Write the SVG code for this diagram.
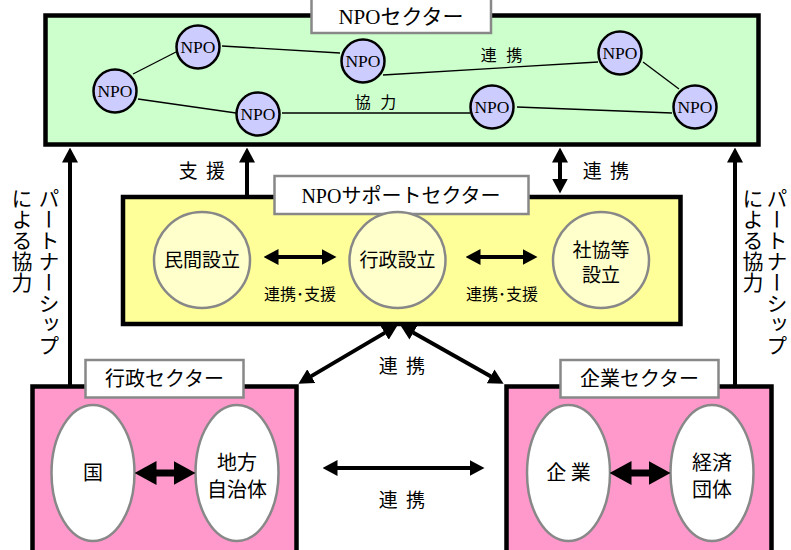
<svg xmlns="http://www.w3.org/2000/svg" width="791" height="550" viewBox="0 0 791 550">
<style>
.box{stroke:#000;stroke-width:4.5}
.title{fill:#fff;stroke:#888;stroke-width:2.5}
.jp{font-family:"Noto Sans CJK JP","Noto Sans",sans-serif;fill:#000;text-anchor:middle}
.mix{font-family:"Liberation Serif","Noto Sans CJK JP",serif;fill:#000;text-anchor:middle}
.npo circle{fill:#ccccff;stroke:#000;stroke-width:2.5}
.npo text{font-family:"Liberation Serif",serif;font-size:17.5px;text-anchor:middle;fill:#000}
.sub{fill:#ffffcc;stroke:#888;stroke-width:2.5}
.ell{fill:#fff;stroke:#888;stroke-width:2.5}
.net line{stroke:#000;stroke-width:1.3}
.arr{stroke:#000;stroke-width:4;fill:none}
.arrb{stroke:#000;stroke-width:7;fill:none}
.vt{font-family:"Noto Sans CJK JP",sans-serif;font-size:21px;writing-mode:vertical-rl;fill:#000}
</style>
<defs>
<marker id="ah" viewBox="0 0 15 16" refX="0.5" refY="8" markerWidth="15" markerHeight="16" markerUnits="userSpaceOnUse" orient="auto-start-reverse">
<path d="M0,0 L15,8 L0,16 Z" fill="#000"/>
</marker>
<marker id="ahb" viewBox="0 0 22 24" refX="0.5" refY="12" markerWidth="22" markerHeight="24" markerUnits="userSpaceOnUse" orient="auto-start-reverse">
<path d="M0,0 L22,12 L0,24 Z" fill="#000"/>
</marker>
</defs>
<rect width="791" height="550" fill="#fff"/>

<g id="npo-sector">
<rect class="box" x="45.5" y="15.5" width="713" height="129" fill="#ccffcc"/>
<g class="net">
<line x1="133" y1="74" x2="176" y2="52"/>
<line x1="222" y1="46" x2="340" y2="53"/>
<line x1="138" y1="99" x2="236" y2="113"/>
<line x1="282" y1="113" x2="470" y2="113"/>
<line x1="383" y1="75" x2="598" y2="62"/>
<line x1="517" y1="107" x2="672" y2="113"/>
<line x1="643" y1="62" x2="679" y2="89"/>
</g>
<text class="jp" x="503" y="61" font-size="16" letter-spacing="3">連 携</text>
<text class="jp" x="377" y="108" font-size="16" letter-spacing="3">協 力</text>
<rect class="title" x="311.5" y="-2" width="179.5" height="35"/>
<text class="mix" x="401" y="24" font-size="21">NPOセクター</text>
</g>

<g id="npo1" class="npo"><circle cx="198" cy="47" r="21.5"/><text x="198" y="53">NPO</text></g>
<g id="npo2" class="npo"><circle cx="363" cy="61" r="21.5"/><text x="363" y="67">NPO</text></g>
<g id="npo3" class="npo"><circle cx="115" cy="91" r="21.5"/><text x="115" y="97">NPO</text></g>
<g id="npo4" class="npo"><circle cx="258" cy="114" r="21.5"/><text x="258" y="120">NPO</text></g>
<g id="npo5" class="npo"><circle cx="492" cy="107" r="21.5"/><text x="492" y="113">NPO</text></g>
<g id="npo6" class="npo"><circle cx="620" cy="53" r="21.5"/><text x="620" y="59">NPO</text></g>
<g id="npo7" class="npo"><circle cx="695" cy="107" r="21.5"/><text x="695" y="113">NPO</text></g>

<g id="support-sector">
<rect class="box" x="123" y="197" width="557.5" height="127" fill="#ffff99"/>
<rect class="title" x="274.5" y="176" width="254" height="38"/>
<text class="mix" x="401" y="203" font-size="20">NPOサポートセクター</text>
</g>
<g id="minkan"><circle class="sub" cx="202" cy="260" r="48"/><text class="jp" x="202" y="267" font-size="19">民間設立</text></g>
<g id="gyosei-setsu"><circle class="sub" cx="397.5" cy="260" r="48"/><text class="jp" x="397.5" y="267" font-size="19">行政設立</text></g>
<g id="shakyo"><circle class="sub" cx="601" cy="260" r="48"/><text class="jp" x="601" y="257" font-size="19">社協等</text><text class="jp" x="601" y="282" font-size="19">設立</text></g>

<g id="gyosei-sector">
<rect class="box" x="32.5" y="386.5" width="264" height="175" fill="#ff99cc"/>
<rect class="title" x="85.5" y="360" width="158" height="37.5"/>
<text class="jp" x="164.5" y="385.5" font-size="20">行政セクター</text>
</g>
<g id="kuni"><ellipse class="ell" cx="93" cy="473" rx="41.5" ry="68"/><text class="jp" x="93" y="480" font-size="20">国</text></g>
<g id="chiho"><ellipse class="ell" cx="237" cy="473" rx="41.5" ry="68"/><text class="jp" x="237" y="470" font-size="20">地方</text><text class="jp" x="237" y="497" font-size="20">自治体</text></g>

<g id="kigyo-sector">
<rect class="box" x="506.5" y="386.5" width="265" height="175" fill="#ff99cc"/>
<rect class="title" x="560.5" y="360" width="158" height="37.5"/>
<text class="jp" x="639.5" y="385.5" font-size="20">企業セクター</text>
</g>
<g id="kigyo"><ellipse class="ell" cx="568.5" cy="473" rx="41.5" ry="68"/><text class="jp" x="568.5" y="480" font-size="20">企 業</text></g>
<g id="keizai"><ellipse class="ell" cx="712" cy="473" rx="41.5" ry="68"/><text class="jp" x="712" y="470" font-size="20">経済</text><text class="jp" x="712" y="497" font-size="20">団体</text></g>

<g id="connectors">
<line class="arr" x1="70" y1="386" x2="70" y2="162" marker-end="url(#ah)"/>
<line class="arr" x1="735" y1="386" x2="735" y2="162" marker-end="url(#ah)"/>
<line class="arr" x1="247" y1="197" x2="247" y2="162" marker-end="url(#ah)"/>
<line class="arr" x1="560" y1="162" x2="560" y2="179" marker-start="url(#ah)" marker-end="url(#ah)"/>
<line class="arr" x1="278" y1="257" x2="322" y2="257" marker-start="url(#ah)" marker-end="url(#ah)"/>
<line class="arr" x1="480" y1="257" x2="523" y2="257" marker-start="url(#ah)" marker-end="url(#ah)"/>
<line class="arr" x1="385.1" y1="332.6" x2="310.9" y2="376.4" marker-start="url(#ah)" marker-end="url(#ah)"/>
<line class="arr" x1="413" y1="332.4" x2="491" y2="376.6" marker-start="url(#ah)" marker-end="url(#ah)"/>
<line class="arr" x1="337" y1="468" x2="470" y2="468" marker-start="url(#ah)" marker-end="url(#ah)"/>
<line class="arrb" x1="156" y1="473" x2="174" y2="473" marker-start="url(#ahb)" marker-end="url(#ahb)"/>
<line class="arrb" x1="631" y1="473" x2="649" y2="473" marker-start="url(#ahb)" marker-end="url(#ahb)"/>
<text class="jp" x="203" y="178" font-size="19" letter-spacing="2">支 援</text>
<text class="jp" x="607" y="178" font-size="19" letter-spacing="2">連 携</text>
<text class="jp" x="300" y="300" font-size="16">連携･支援</text>
<text class="jp" x="502" y="300" font-size="16">連携･支援</text>
<text class="jp" x="403" y="373" font-size="19" letter-spacing="2">連 携</text>
<text class="jp" x="403" y="507" font-size="19" letter-spacing="2">連 携</text>
<text class="vt" x="49" y="188">パートナーシップ</text>
<text class="vt" x="22" y="188">による協力</text>
<text class="vt" x="777" y="188">パートナーシップ</text>
<text class="vt" x="753" y="188">による協力</text>
</g>
</svg>
